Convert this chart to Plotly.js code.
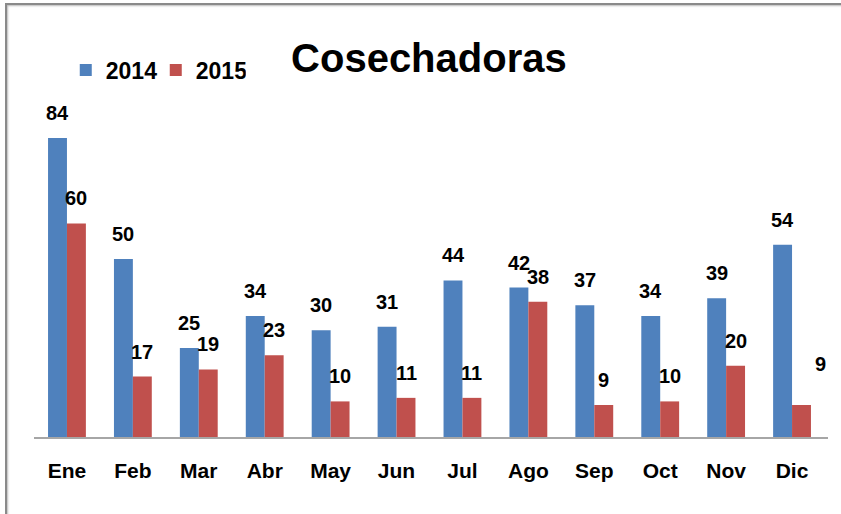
<!DOCTYPE html>
<html><head><meta charset="utf-8">
<script src="https://cdn.plot.ly/plotly-3.0.1.min.js"></script>
<style>
html,body{margin:0;padding:0;background:#fff;overflow:hidden}
#chart{width:841px;height:514px}
#frame{position:absolute;left:5px;top:3px;width:860px;height:560px;border-top:2px solid #8a8a8a;border-left:2px solid #8a8a8a;pointer-events:none;box-shadow:1px 1px 2px #bbb inset}
</style></head>
<body>
<div id="chart"></div>
<div id="frame"></div>
<script>
const months = ["Ene","Feb","Mar","Abr","May","Jun","Jul","Ago","Sep","Oct","Nov","Dic"];
const series2014 = [84,50,25,34,30,31,44,42,37,34,39,54];
const series2015 = [60,17,19,23,10,11,11,38,9,10,20,9];

const FONT = '"Liberation Sans",Arial,sans-serif';
const bargap = 0.426;
const off = (1 - bargap) / 4;

const traces = [
  {type:'bar', name:'2014', x:months, y:series2014, marker:{color:'#4f81bd'}, hoverinfo:'none'},
  {type:'bar', name:'2015', x:months, y:series2015, marker:{color:'#c0504d'}, hoverinfo:'none'}
];

const annotations = [];
months.forEach((m,i)=>{
  annotations.push({x:i-off, y:series2014[i], xref:'x', yref:'y', text:String(series2014[i]),
    showarrow:false, yanchor:'middle', yshift:25, font:{family:FONT,size:20,color:'#000',weight:'bold'}});
  const last = (i === months.length-1);
  annotations.push({x:i+off, y:series2015[i], xref:'x', yref:'y', text:String(series2015[i]),
    showarrow:false, yanchor:'middle', yshift:last?41:25, xshift:last?19:0,
    font:{family:FONT,size:20,color:'#000',weight:'bold'}});
});

const layout = {
  width:841, height:514,
  margin:{l:34, r:13, t:100, b:77},
  paper_bgcolor:'#fff', plot_bgcolor:'#fff',
  barmode:'group', bargap:bargap, bargroupgap:0,
  title:{text:'<b>Cosechadoras</b>', x:0.51, xanchor:'center', y:0.887, yanchor:'middle',
    font:{family:FONT, size:40, color:'#000'}},
  showlegend:true,
  legend:{orientation:'h', x:0.040, xanchor:'left', y:1.089, yanchor:'middle',
    font:{family:FONT, size:23, color:'#000', weight:'bold'}, itemwidth:30, traceorder:'normal',
    entrywidth:45, entrywidthmode:'pixels', bgcolor:'rgba(0,0,0,0)'},
  xaxis:{type:'category', showline:true, linecolor:'#a6a6a6', linewidth:2, ticks:'',
    tickfont:{family:FONT, size:21, color:'#000', weight:'bold'}, showgrid:false, zeroline:false,
    fixedrange:true, ticklabelstandoff:14},
  yaxis:{range:[0,94.7], visible:false, showgrid:false, zeroline:false, fixedrange:true},
  annotations:annotations
};

Plotly.newPlot('chart', traces, layout, {displayModeBar:false, staticPlot:true});
</script>
</body></html>
